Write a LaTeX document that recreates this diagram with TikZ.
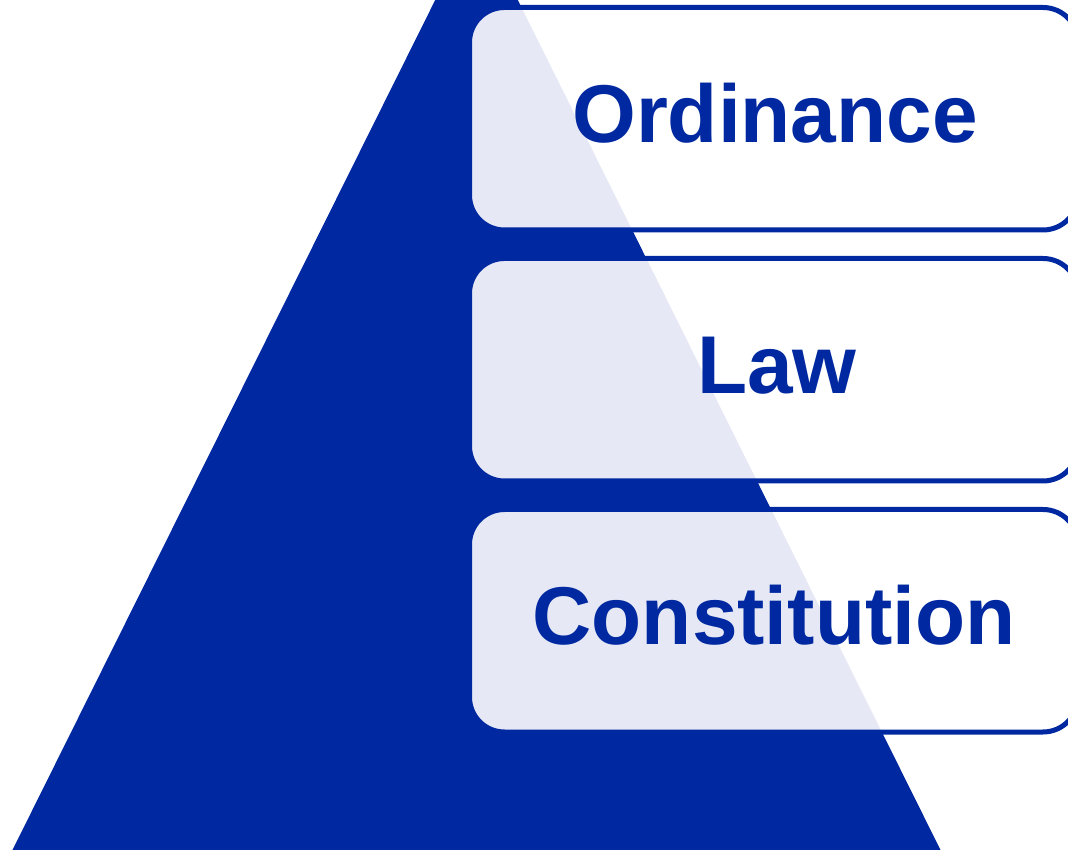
\documentclass[tikz,border=0pt]{standalone}
\usepackage{fontspec}
\setmainfont{Liberation Sans}
\definecolor{pblue}{RGB}{0,40,160}
\begin{document}
\begin{tikzpicture}[x=1pt,y=1pt,
  levelbox/.style={draw=pblue, line width=5pt, fill=white, fill opacity=0.9,
    rounded corners=35pt, minimum width=608.5pt, minimum height=222.5pt,
    inner sep=0pt, outer sep=0pt},
  leveltext/.style={text=pblue, font=\fontsize{82}{90}\selectfont\bfseries,
    anchor=base, inner sep=0pt}]
\useasboundingbox (0,0) rectangle (1068,849);
\clip (0,0) rectangle (1068,849);
% pyramid
\fill[pblue] (476.5,932) -- (8,-10) -- (945,-10) -- cycle;
% level boxes
\node[levelbox] (b1) at (773.75,730.25) {};
\node[levelbox] (b2) at (773.75,479.25) {};
\node[levelbox] (b3) at (773.75,228.25) {};
% labels
\node[leveltext] (t1) at (775,706) {Ordinance};
\node[leveltext] (t2) at (777,455) {Law};
\node[leveltext] (t3) at (774,204) {Constitution};
\end{tikzpicture}
\end{document}
